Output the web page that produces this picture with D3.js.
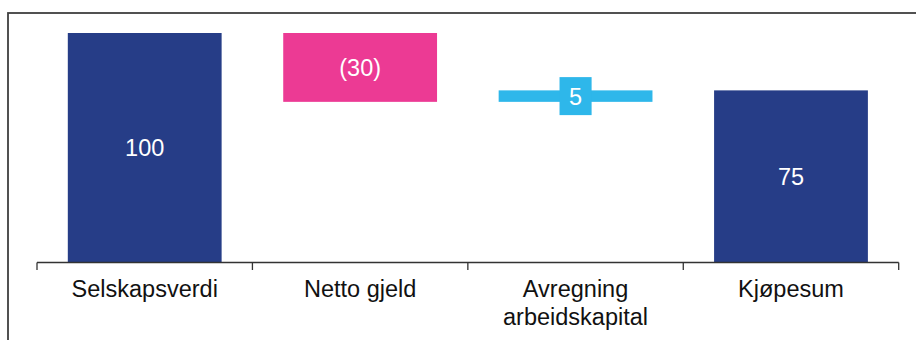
<!DOCTYPE html>
<html>
<head>
<meta charset="utf-8">
<script src="https://cdn.jsdelivr.net/npm/d3@7"></script>
<style>
html,body{margin:0;padding:0;background:#fff;}
svg{display:block;font-family:"Liberation Sans",Arial,sans-serif;}
</style>
</head>
<body>
<svg id="chart" width="916" height="340"></svg>
<script>
const categories = ["Selskapsverdi", "Netto gjeld", "Avregning arbeidskapital", "Kjøpesum"];
const tickLines = [["Selskapsverdi"], ["Netto gjeld"], ["Avregning", "arbeidskapital"], ["Kjøpesum"]];
const values = [100, -30, 5, 75];
const kinds = ["total", "delta", "delta", "total"];
const valueLabels = ["100", "(30)", "5", "75"];
const colors = {total: "#263D87", neg: "#EC3A94", pos: "#2EB7EA"};

const svg = d3.select("#chart");
const W = 916, H = 340;
const left = 37, right = 898.7, baseY = 262.5, topY = 33;
const fontSize = 23.5;

// frame
svg.append("rect").attr("x", 8).attr("y", 13).attr("width", W + 20).attr("height", H + 20)
  .attr("fill", "none").attr("stroke", "#3f3f3f").attr("stroke-width", 1.8);

const x = d3.scaleBand().domain(categories).range([left, right]).paddingInner(0.286).paddingOuter(0.143);
const y = d3.scaleLinear().domain([0, 100]).range([baseY, topY]);

// compute waterfall segments
let run = 0;
const segs = categories.map((c, i) => {
  let y0, y1, color;
  if (kinds[i] === "total") { y0 = 0; y1 = values[i]; run = values[i]; color = colors.total; }
  else { y0 = run; y1 = run + values[i]; run = y1; color = values[i] < 0 ? colors.neg : colors.pos; }
  return {c, lo: Math.min(y0, y1), hi: Math.max(y0, y1), color, label: valueLabels[i]};
});

svg.selectAll("rect.bar").data(segs).enter().append("rect").attr("class", "bar")
  .attr("x", d => x(d.c)).attr("width", x.bandwidth())
  .attr("y", d => y(d.hi)).attr("height", d => y(d.lo) - y(d.hi))
  .attr("fill", d => d.color);

// labels
segs.forEach(d => {
  const cx = x(d.c) + x.bandwidth() / 2;
  const cy = (y(d.hi) + y(d.lo)) / 2;
  const h = y(d.lo) - y(d.hi);
  const t = svg.append("text").attr("x", cx).attr("y", cy).attr("dy", "0.36em")
    .attr("text-anchor", "middle").attr("font-size", fontSize).attr("fill", "#fff").text(d.label);
  if (h < 30) {
    const w = t.node().getComputedTextLength();
    svg.insert("rect", function(){ return t.node(); })
      .attr("x", cx - w / 2 - 9.5).attr("width", w + 19)
      .attr("y", cy - 19).attr("height", 38).attr("fill", d.color);
  }
});

// x axis
const axis = svg.append("g").attr("transform", `translate(0,${baseY})`);
axis.append("line").attr("x1", left).attr("x2", right).attr("y1", 0).attr("y2", 0)
  .attr("stroke", "#333").attr("stroke-width", 1.5);
const edges = d3.range(categories.length + 1).map(i => left + i * (right - left) / categories.length);
axis.selectAll("line.tick").data(edges).enter().append("line").attr("class", "tick")
  .attr("x1", d => d).attr("x2", d => d).attr("y1", 0).attr("y2", 7.5)
  .attr("stroke", "#333").attr("stroke-width", 1.3);

categories.forEach((c, i) => {
  const cx = x(c) + x.bandwidth() / 2;
  const t = svg.append("text").attr("x", cx).attr("y", 297)
    .attr("text-anchor", "middle").attr("font-size", fontSize).attr("fill", "#111");
  tickLines[i].forEach((ln, j) => {
    t.append("tspan").attr("x", cx).attr("dy", j === 0 ? 0 : 27.7).text(ln);
  });
});
</script>
</body>
</html>
